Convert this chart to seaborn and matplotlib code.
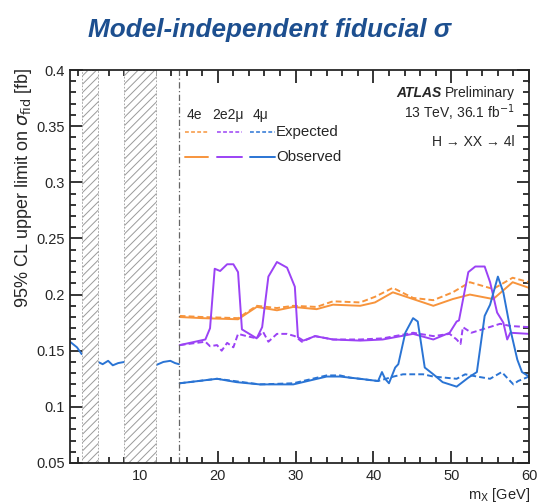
import numpy as np
import pandas as pd
import matplotlib
matplotlib.use("Agg")
import matplotlib.pyplot as plt
from matplotlib.ticker import MultipleLocator, FuncFormatter
import seaborn as sns

# ---------------- data ----------------
# low-mass region (4mu only), segments separated by quarkonia vetoes
mass_low_a = [1.0, 1.9, 2.5]
obs_4mu_low_a = [0.158, 0.153, 0.147]
mass_low_b = [4.6, 5.2, 5.9, 6.5, 7.2, 8.0]
obs_4mu_low_b = [0.140, 0.138, 0.141, 0.137, 0.139, 0.140]
mass_low_c = [12.0, 13.0, 13.9, 14.5, 15.0]
obs_4mu_low_c = [0.137, 0.140, 0.141, 0.139, 0.138]

veto_bands = [(2.5, 4.6), (8.0, 12.1)]
boundary = 15.0

# high-mass region: 4e (orange)
m_4e = [15.1, 18.0, 22.6, 25.0, 27.6, 29.7, 32.7, 34.8, 38.3, 40.2, 42.5, 45.1, 47.7, 50.2, 52.4, 55.4, 57.9, 60.0]
obs_4e = [0.180, 0.179, 0.178, 0.189, 0.186, 0.189, 0.187, 0.191, 0.190, 0.193, 0.202, 0.196, 0.190, 0.196, 0.200, 0.196, 0.211, 0.206]
exp_4e = [0.181, 0.180, 0.179, 0.190, 0.188, 0.190, 0.189, 0.194, 0.193, 0.198, 0.206, 0.197, 0.195, 0.202, 0.211, 0.205, 0.215, 0.211]

# 2e2mu (purple)
m_2e2mu_obs = [15.1, 18.4, 19.0, 19.6, 20.3, 21.2, 22.0, 22.6, 23.1, 25.0, 25.7, 26.5, 27.6, 28.9, 29.9, 30.3, 31.0, 32.5,
               34.8, 38.3, 41.2, 45.1, 47.7, 49.8, 50.7, 51.0, 52.2, 53.1, 54.3, 55.0, 55.9, 56.7, 57.2, 57.6, 60.0]
obs_2e2mu = [0.155, 0.160, 0.170, 0.223, 0.221, 0.227, 0.227, 0.220, 0.169, 0.161, 0.171, 0.216, 0.229, 0.224, 0.207, 0.162, 0.159, 0.163,
             0.160, 0.159, 0.160, 0.165, 0.160, 0.166, 0.176, 0.177, 0.220, 0.225, 0.225, 0.211, 0.184, 0.175, 0.160, 0.166, 0.165]
m_2e2mu_exp = [15.1, 18.4, 19.0, 19.9, 20.5, 21.2, 22.0, 22.6, 23.7, 25.0, 25.8, 26.5, 27.6, 28.9, 29.9, 30.8, 32.5, 34.8, 38.3,
               41.2, 45.1, 47.7, 49.8, 50.7, 51.2, 51.5, 52.6, 54.0, 56.3, 57.6, 60.0]
exp_2e2mu = [0.155, 0.158, 0.154, 0.155, 0.150, 0.157, 0.153, 0.165, 0.163, 0.161, 0.167, 0.158, 0.165, 0.165, 0.163, 0.158, 0.163, 0.160, 0.160,
             0.161, 0.166, 0.163, 0.165, 0.160, 0.156, 0.171, 0.166, 0.169, 0.174, 0.172, 0.171]

# 4mu (blue)
m_4mu_obs = [15.1, 19.9, 22.4, 25.4, 29.7, 34.0, 35.7, 37.0, 38.3, 40.6, 41.1, 41.5, 42.0, 42.8, 43.2, 44.1, 45.1, 45.7, 46.6, 47.7,
             48.9, 50.7, 52.2, 53.3, 54.3, 55.0, 56.0, 56.7, 57.6, 58.5, 59.1, 60.0]
obs_4mu = [0.121, 0.125, 0.122, 0.120, 0.120, 0.127, 0.127, 0.126, 0.125, 0.123, 0.131, 0.125, 0.121, 0.135, 0.138, 0.166, 0.179, 0.176, 0.135, 0.129,
           0.122, 0.118, 0.126, 0.131, 0.181, 0.191, 0.216, 0.202, 0.169, 0.142, 0.131, 0.127]
m_4mu_exp = [15.1, 19.9, 25.4, 29.7, 34.0, 35.7, 37.0, 40.6, 42.6, 43.8, 46.4, 47.7, 50.7, 51.8, 53.3, 55.0, 56.5, 57.3, 58.0, 58.6, 60.0]
exp_4mu = [0.121, 0.125, 0.120, 0.121, 0.128, 0.128, 0.126, 0.123, 0.127, 0.129, 0.129, 0.127, 0.125, 0.129, 0.127, 0.125, 0.131, 0.125, 0.120, 0.123, 0.127]

channels = ["4e", "2e2μ", "4μ"]
colors = {"4e": "#f7943c", "2e2μ": "#9b42f5", "4μ": "#2a74d4"}

# ---------------- figure ----------------
sns.set_style("ticks")
plt.rcParams["font.family"] = ["Liberation Sans", "DejaVu Sans"]
plt.rcParams["hatch.color"] = "#9a9a9a"
plt.rcParams["hatch.linewidth"] = 0.7
fig = plt.figure(figsize=(5.44, 5.03), dpi=100)
ax = fig.add_axes([70 / 544, 1 - 463 / 503, 459 / 544, 393 / 503])

lw = 1.4
dash = (3, 1.6)

def draw(x, y, color, dashed):
    df = pd.DataFrame({"m": x, "v": y})
    sns.lineplot(data=df, x="m", y="v", color=color, lw=lw, ax=ax, estimator=None, sort=False)
    if dashed:
        ax.lines[-1].set_dashes(dash)

# low-mass segments
for xs, ys in [(mass_low_a, obs_4mu_low_a), (mass_low_b, obs_4mu_low_b), (mass_low_c, obs_4mu_low_c)]:
    draw(xs, ys, colors["4μ"], False)

draw(m_4e, exp_4e, colors["4e"], True)
draw(m_4e, obs_4e, colors["4e"], False)
draw(m_2e2mu_exp, exp_2e2mu, colors["2e2μ"], True)
draw(m_2e2mu_obs, obs_2e2mu, colors["2e2μ"], False)
draw(m_4mu_exp, exp_4mu, colors["4μ"], True)
draw(m_4mu_obs, obs_4mu, colors["4μ"], False)

# veto bands
for lo, hi in veto_bands:
    ax.axvspan(lo, hi, facecolor="white", edgecolor="#9a9a9a", hatch="////", lw=0.6, ls=(0, (2, 2)), zorder=3)

ax.axvline(boundary, color="#666666", lw=0.9, ls=(0, (5, 2, 1, 2)), zorder=4)

ax.set_xlim(1, 60)
ax.set_ylim(0.05, 0.4)
ax.xaxis.set_major_locator(MultipleLocator(10))
ax.xaxis.set_minor_locator(MultipleLocator(2))
ax.yaxis.set_major_locator(MultipleLocator(0.05))
ax.yaxis.set_minor_locator(MultipleLocator(0.01))
ax.yaxis.set_major_formatter(FuncFormatter(lambda v, p: f"{v:g}"))
ax.tick_params(which="both", direction="in", top=True, right=True, width=1.1, labelsize=10.5, color="black")
ax.tick_params(which="major", length=9)
ax.tick_params(which="minor", length=4.5)
ax.tick_params(axis="x", pad=4)
for s in ax.spines.values():
    s.set_linewidth(1.3)
    s.set_zorder(5)
ax.set_xlabel("")
ax.set_ylabel("")

fig.text(24 / 544, 1 - 67 / 503, "95% CL upper limit on $\\sigma_{\\mathrm{fid}}$ [fb]", rotation=90,
         ha="center", va="top", fontsize=13)
fig.text(530 / 544, 1 - 495 / 503, "m$_{\\mathrm{X}}$ [GeV]", ha="right", va="center", fontsize=10.5)

fig.text(270 / 544, 1 - 30 / 503, "Model-independent fiducial σ", ha="center", va="center",
         fontsize=18.8, fontweight="bold", fontstyle="italic", color="#1d4f8f")

# ATLAS label
fs = 10
t_pre = ax.text(0.969, 0.942, "Preliminary", transform=ax.transAxes, ha="right", va="center", fontsize=fs)
t_atl = ax.text(0.70, 0.942, "ATLAS", transform=ax.transAxes, ha="right", va="center", fontsize=fs,
                fontweight="bold", fontstyle="italic")
ax.text(0.969, 0.891, "13 TeV, 36.1 fb$^{-1}$", transform=ax.transAxes, ha="right", va="center", fontsize=fs)
ax.text(0.969, 0.817, "H → XX → 4l", transform=ax.transAxes, ha="right", va="center", fontsize=fs)

# legend
ax.text(0.255, 0.885, "4e", transform=ax.transAxes, ha="left", va="center", fontsize=10)
ax.text(0.309, 0.885, "2e2μ", transform=ax.transAxes, ha="left", va="center", fontsize=10)
ax.text(0.397, 0.885, "4μ", transform=ax.transAxes, ha="left", va="center", fontsize=10)
segs = {"4e": (0.251, 0.301), "2e2μ": (0.320, 0.375), "4μ": (0.392, 0.447)}
for ch in channels:
    a, b = segs[ch]
    ax.plot([a, b], [0.842, 0.842], transform=ax.transAxes, color=colors[ch], lw=1.1, dashes=(2.5, 1.5))
    ax.plot([a, b], [0.779, 0.779], transform=ax.transAxes, color=colors[ch], lw=1.4)
ax.text(0.449, 0.842, "Expected", transform=ax.transAxes, ha="left", va="center", fontsize=10.8)
ax.text(0.449, 0.779, "Observed", transform=ax.transAxes, ha="left", va="center", fontsize=10.8)

fig.canvas.draw()
r = fig.canvas.get_renderer()
bb = t_pre.get_window_extent(r)
inv = ax.transAxes.inverted()
t_atl.set_x(inv.transform((bb.x0 - 3, bb.y0))[0])

fig.savefig("out.png", dpi=100)
